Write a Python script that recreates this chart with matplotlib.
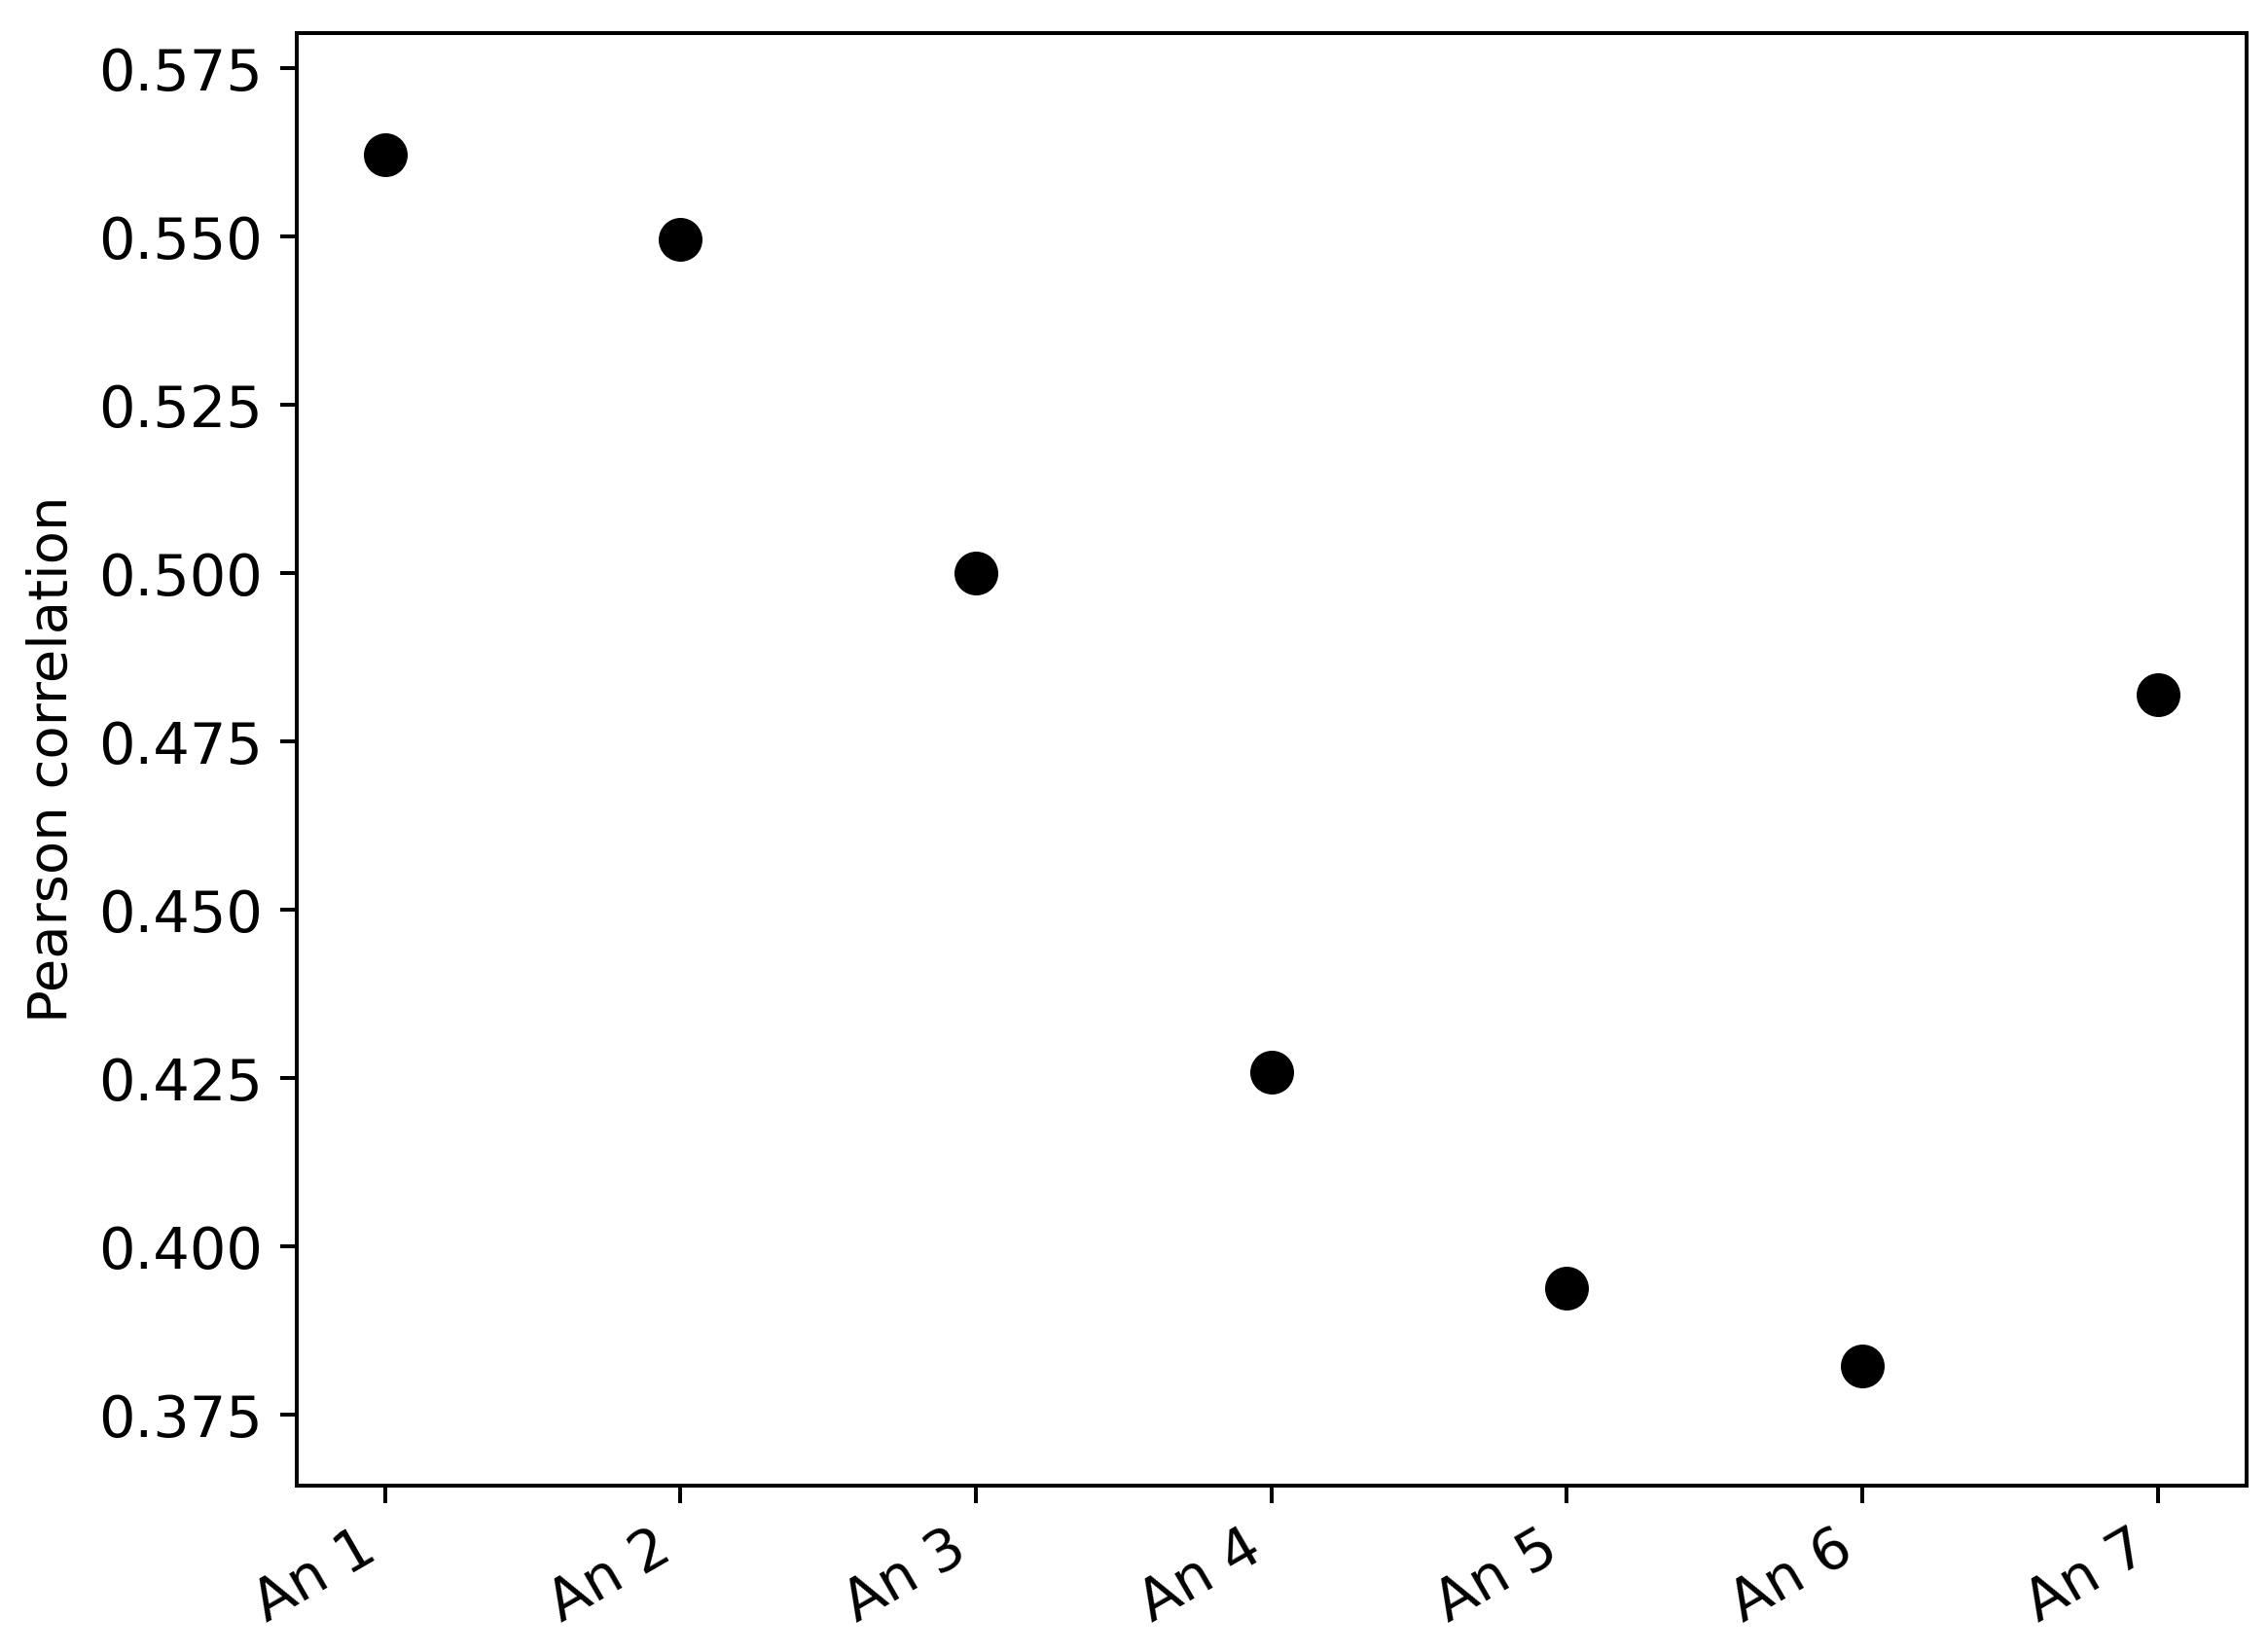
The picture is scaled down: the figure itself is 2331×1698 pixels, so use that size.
import matplotlib
matplotlib.use('Agg')
import matplotlib.pyplot as plt

# values
animals = ['An 1', 'An 2', 'An 3', 'An 4', 'An 5', 'An 6', 'An 7']
pearson_r = [0.5621, 0.5496, 0.5000, 0.4259, 0.3938, 0.3823, 0.4819]

fig, ax = plt.subplots(figsize=(2331 / 360., 1698 / 360.), dpi=360)
ax.plot(range(len(animals)), pearson_r, 'o', color='black', markersize=8)

ax.set_xticks(range(len(animals)))
ax.set_xticklabels(animals, rotation=30, ha='right')
ax.tick_params(labelsize=11.8)
ax.set_ylim(0.3645, 0.5802)
ax.set_ylabel('Pearson correlation', fontsize=11.2)

fig.subplots_adjust(left=0.1307, right=0.9904, top=0.9799, bottom=0.1007)
fig.savefig('out.png', dpi=360)
